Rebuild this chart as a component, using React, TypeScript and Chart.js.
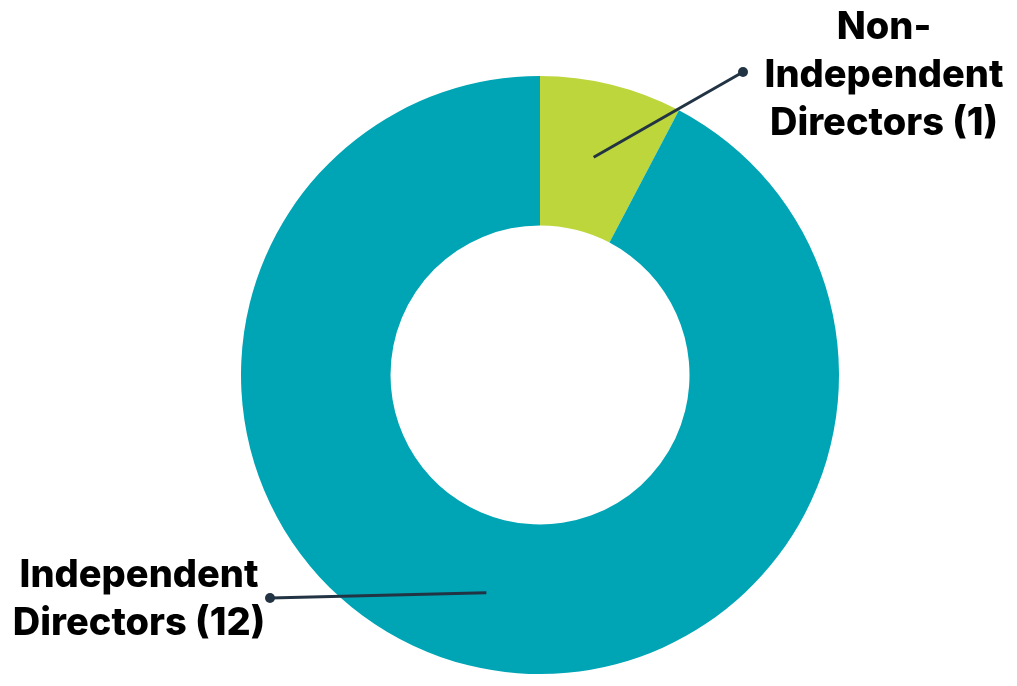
import { useEffect, useRef } from "react"
import { Chart, registerables } from "chart.js"

Chart.register(...registerables)

// Datos del gráfico
const categories = ["Non-Independent Directors", "Independent Directors"]
const counts = [1, 12]
const labelLines = [
  ["Non-", "Independent", "Directors (1)"],
  ["Independent", "Directors (12)"],
]
const sliceColors = ["#BCD63C", "#00A5B5"]

// Posiciones de las etiquetas (codo de la línea y centro del texto)
const labelPlacement = [
  { dot: { x: 743, y: 72 }, textX: 884, textY: 28 },
  { dot: { x: 270, y: 598 }, textX: 139, textY: 576 },
]

const leaderLabels = {
  id: "leaderLabels",
  afterDatasetsDraw(chart: Chart) {
    const ctx = chart.ctx
    const meta = chart.getDatasetMeta(0)
    meta.data.forEach((arc: any, i: number) => {
      const place = labelPlacement[i]
      const start = arc.getCenterPoint()
      ctx.save()
      ctx.strokeStyle = "#223444"
      ctx.lineWidth = 3
      ctx.beginPath()
      ctx.moveTo(start.x, start.y)
      ctx.lineTo(place.dot.x, place.dot.y)
      ctx.stroke()
      ctx.fillStyle = "#223444"
      ctx.beginPath()
      ctx.arc(place.dot.x, place.dot.y, 5, 0, Math.PI * 2)
      ctx.fill()

      ctx.fillStyle = "#000000"
      ctx.font = "800 38px Inter"
      ctx.textAlign = "center"
      ctx.textBaseline = "middle"
      labelLines[i].forEach((line, j) => {
        ctx.fillText(line, place.textX, place.textY + j * 48)
      })
      ctx.restore()
    })
  },
}

export default function App() {
  const chartRef = useRef<HTMLCanvasElement>(null)
  const chartInstance = useRef<Chart | null>(null)

  useEffect(() => {
    document.body.style.margin = "0"
    if (!chartRef.current) return
    if (chartInstance.current) {
      chartInstance.current.destroy()
    }
    const ctx = chartRef.current.getContext("2d")
    if (ctx) {
      chartInstance.current = new Chart(ctx, {
        type: "doughnut",
        data: {
          labels: categories,
          datasets: [
            {
              data: counts,
              backgroundColor: sliceColors,
              borderWidth: 0,
            },
          ],
        },
        options: {
          responsive: true,
          maintainAspectRatio: false,
          animation: false,
          cutout: "50%",
          layout: {
            padding: { top: 76, bottom: 12, left: 241, right: 178 },
          },
          plugins: {
            legend: { display: false },
            tooltip: { enabled: false },
            title: { display: false },
          },
        },
        plugins: [leaderLabels],
      })
    }

    return () => {
      if (chartInstance.current) {
        chartInstance.current.destroy()
        chartInstance.current = null
      }
    }
  }, [])

  return (
    <div style={{ width: 1017, height: 686, background: "#fff", position: "relative" }}>
      <canvas ref={chartRef} />
    </div>
  )
}
